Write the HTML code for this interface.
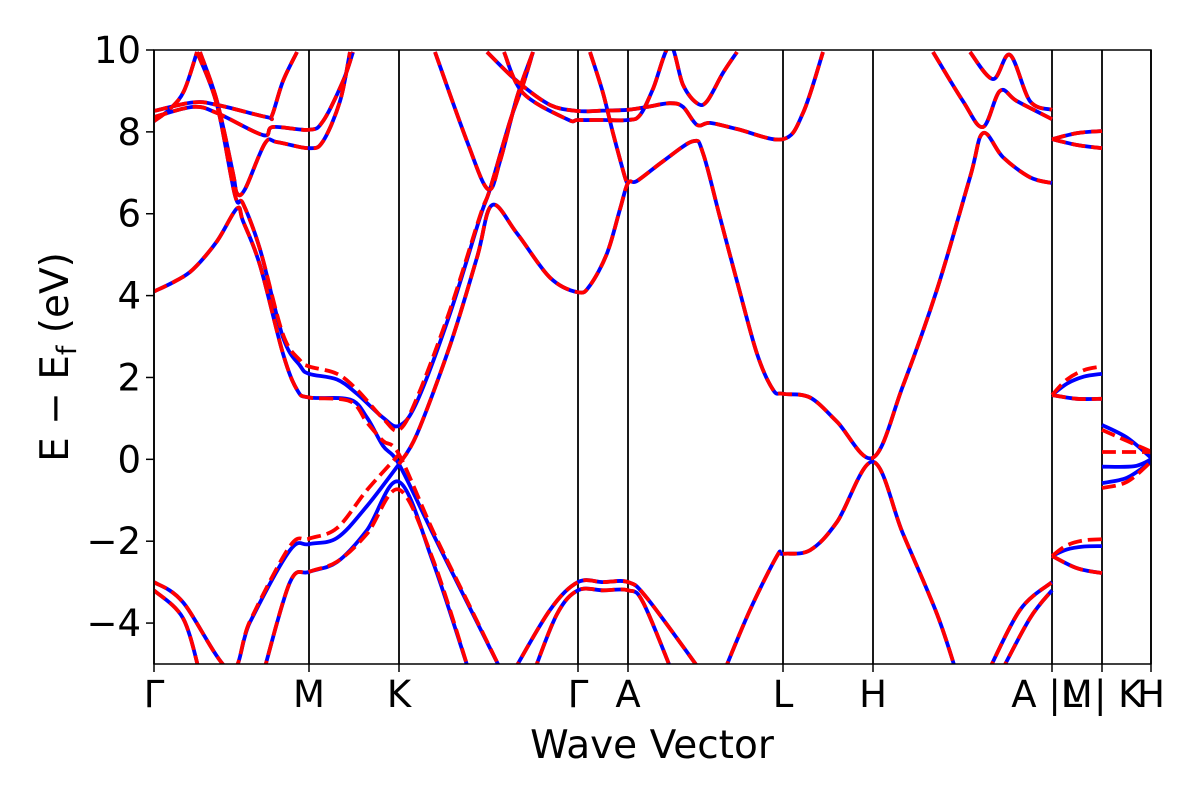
<!DOCTYPE html>
<html><head><meta charset="utf-8"><style>
html,body{margin:0;padding:0;background:#fff;}
svg{display:block;font-family:"DejaVu Sans","Liberation Sans",sans-serif;}
</style></head><body>
<svg id="chart" width="1200" height="800" viewBox="0 0 1200 800" xmlns="http://www.w3.org/2000/svg">
<defs><clipPath id="plotclip"><rect x="154" y="50" width="997" height="614"/></clipPath></defs>
<rect x="0" y="0" width="1200" height="800" fill="#fff"/>
<g id="gridlines"></g>
<g id="bands" clip-path="url(#plotclip)"></g>
<rect x="154" y="50" width="997" height="614" fill="none" stroke="#000" stroke-width="1.5"/>
<g id="yticks"></g>
<g id="xticks"></g>
<text x="652" y="758" font-size="39" text-anchor="middle">Wave Vector</text>
<text transform="translate(68,357) rotate(-90)" font-size="39" text-anchor="middle">E − E<tspan font-size="27" dy="8">f</tspan><tspan dy="-8"> (eV)</tspan></text>
</svg>
<script>
const kTicks = [0,155,245,424,474,629,719,898,948,997];
const kLabels = ["Γ","M","K","Γ","A","L","H","A |M","L | K","H"];
const yTicks = [-4,-2,0,2,4,6,8,10];

const b1 = [[0,4.10],[21,4.35],[39,4.64],[63,5.33],[83,6.13],[89,5.82],[106,4.74],[129,2.58],[143,1.70],[155,1.51],[196,1.46],[213,1.02],[229,0.33],[245,-0.12],[279,-1.82],[313,-3.49],[349,-5.25]];
const b2 = [[43,9.95],[63,8.66],[81,6.45],[89,6.25],[106,5.13],[129,2.98],[146,2.29],[155,2.09],[183,1.95],[203,1.6],[229,1.02],[245,0.82],[263,1.41],[296,3.56],[326,5.91],[336,6.6],[356,8.26],[369,9.15],[379,9.95]];
const b3 = [[245,-0.12],[263,0.62],[296,2.78],[323,4.93],[338,6.21],[363,5.52],[396,4.44],[424,4.08],[436,4.25],[453,5.03],[466,6.11],[474,6.75],[483,6.8],[509,7.28],[539,7.77],[549,7.48],[566,5.91],[583,4.35],[603,2.58],[619,1.70],[629,1.60],[656,1.51],[683,0.92],[719,0.04],[749,1.80],[783,4.15],[816,6.89],[829,7.97],[849,7.38],[876,6.89],[898,6.75]];
const b4 = [[281,9.95],[313,7.77],[334,6.6],[346,7.28],[363,8.85],[379,9.95]];
const b5 = [[333,9.95],[363,9.24],[396,8.66],[424,8.51],[449,8.52],[474,8.54],[493,8.61],[516,8.7],[529,8.61],[543,8.17],[556,8.22],[583,8.07],[629,7.82],[649,8.46],[669,9.95]];
const b6 = [[350,9.95],[369,8.95],[413,8.31],[424,8.29],[449,8.29],[474,8.29],[486,8.41],[499,9.05],[516,10.1],[529,9.15],[543,8.70],[553,8.75],[569,9.44],[583,9.95]];
const e2 = [[436,9.95],[449,8.95],[459,7.97],[471,6.89],[474,6.75]];
const c1 = [[0,8.26],[16,8.56],[30,9.0],[43,9.95]];
const c2 = [[46,9.95],[63,8.75],[79,6.99],[83,6.5],[91,6.6],[111,7.72],[123,7.75],[155,7.6],[169,7.77],[186,8.75],[196,9.95]];
const c3 = [[0,8.51],[39,8.72],[63,8.66],[113,8.36],[118,8.4],[129,9.24],[143,9.95]];
const c4 = [[0,8.36],[39,8.61],[63,8.46],[109,7.92],[119,8.12],[155,8.05],[169,8.26],[189,9.24],[199,9.95]];
const d1 = [[0,-3.0],[29,-3.49],[76,-5.15],[96,-3.98],[136,-2.22],[155,-2.07],[183,-1.92],[213,-1.14],[245,-0.12]];
const d2 = [[0,-3.2],[29,-3.88],[46,-5.25]];
const d2b = [[109,-5.25],[136,-3.0],[155,-2.75],[183,-2.51],[213,-1.73],[245,-0.55],[279,-2.51],[316,-5.25]];
const d3 = [[358,-5.25],[396,-3.68],[424,-3.0],[449,-3.0],[474,-3.0],[493,-3.39],[549,-5.25]];
const d4 = [[379,-5.25],[403,-3.78],[424,-3.2],[449,-3.2],[474,-3.2],[489,-3.49],[519,-5.25]];
const d5 = [[569,-5.25],[596,-3.68],[623,-2.36],[629,-2.31],[656,-2.22],[683,-1.53],[719,-0.06],[749,-1.82],[783,-3.78],[803,-5.25]];
const d6 = [[833,-5.25],[866,-3.68],[898,-3.0]];
const d7 = [[846,-5.25],[876,-3.88],[898,-3.2]];
const u1 = [[779,9.95],[809,8.75],[829,8.12],[846,9.0],[863,8.75],[898,8.31]];
const u2 = [[816,9.95],[839,9.29],[856,9.88],[876,8.75],[898,8.54]];
const m1 = [[898,7.82],[923,7.97],[948,8.02]];
const m2 = [[898,7.82],[923,7.68],[948,7.6]];
const m3 = [[898,1.57],[913,1.85],[930,2.02],[948,2.09]];
const m4 = [[898,1.57],[923,1.48],[948,1.48]];
const m5 = [[898,-2.36],[913,-2.2],[930,-2.13],[948,-2.12]];
const m6 = [[898,-2.36],[923,-2.66],[948,-2.78]];
const h1 = [[948,0.84],[973,0.53],[997,0.04]];
const h2 = [[948,-0.18],[980,-0.17],[997,0.0]];
const h3 = [[948,-0.58],[973,-0.45],[997,-0.06]];

const rb1 = [[0,4.10],[21,4.35],[39,4.64],[63,5.33],[83,6.13],[89,5.82],[106,4.74],[129,2.58],[143,1.70],[155,1.51],[196,1.42],[213,0.9],[229,0.45],[245,0.12],[279,-1.75],[313,-3.45],[349,-5.25]];
const rb2 = [[43,9.95],[63,8.66],[81,6.45],[89,6.25],[106,5.13],[129,3.05],[146,2.42],[155,2.27],[183,2.09],[203,1.7],[229,1.0],[245,0.72],[263,1.5],[296,3.65],[326,5.95],[336,6.6],[356,8.26],[369,9.15],[379,9.95]];
const rd1 = [[0,-3.0],[29,-3.49],[76,-5.15],[96,-3.95],[136,-2.12],[155,-1.94],[183,-1.68],[213,-0.75],[245,0.12]];
const rd2b = [[109,-5.25],[136,-3.0],[155,-2.75],[183,-2.5],[213,-1.82],[245,-0.74],[279,-2.45],[316,-5.25]];
const rm3 = [[898,1.57],[913,1.95],[930,2.18],[948,2.27]];
const rm5 = [[898,-2.36],[913,-2.1],[930,-1.98],[948,-1.95]];
const rh1 = [[948,0.72],[973,0.45],[997,0.19]];
const rh2 = [[948,0.18],[997,0.18]];
const rh3 = [[948,-0.7],[973,-0.55],[997,-0.06]];

const blueBands = [b1,b2,b3,b4,b5,b6,e2,c1,c2,c3,c4,d1,d2,d2b,d3,d4,d5,d6,d7,u1,u2,m1,m2,m3,m4,m5,m6,h1,h2,h3];
const redBands = [rb1,rb2,b3,b4,b5,b6,e2,c1,c2,c3,c4,rd1,d2,rd2b,d3,d4,d5,d6,d7,u1,u2,m1,m2,rm3,m4,rm5,m6,rh1,rh2,rh3];

const X0=154, X1=1151, Y0=664, Y1=50, KMAX=997, EMIN=-5, EMAX=10;
const sx = k => X0 + (k/KMAX)*(X1-X0);
const sy = e => Y0 - (e-EMIN)/(EMAX-EMIN)*(Y0-Y1);
const NS="http://www.w3.org/2000/svg";

function pathFor(pts){
  const p = pts.map(q=>[sx(q[0]),sy(q[1])]);
  let d = "M"+p[0][0].toFixed(1)+","+p[0][1].toFixed(1);
  for(let i=0;i<p.length-1;i++){
    const a=p[Math.max(i-1,0)], b=p[i], c=p[i+1], e=p[Math.min(i+2,p.length-1)];
    const c1x=b[0]+(c[0]-a[0])/6, c1y=b[1]+(c[1]-a[1])/6;
    const c2x=c[0]-(e[0]-b[0])/6, c2y=c[1]-(e[1]-b[1])/6;
    d+=" C"+c1x.toFixed(1)+","+c1y.toFixed(1)+" "+c2x.toFixed(1)+","+c2y.toFixed(1)+" "+c[0].toFixed(1)+","+c[1].toFixed(1);
  }
  return d;
}

const grid=document.getElementById("gridlines");
kTicks.forEach((k,i)=>{
  const l=document.createElementNS(NS,"line");
  
  
  l.setAttribute("x1",sx(k));l.setAttribute("x2",sx(k));
  l.setAttribute("y1",Y1);l.setAttribute("y2",Y0);
  l.setAttribute("stroke","#000");l.setAttribute("stroke-width","1.8");
  grid.appendChild(l);
});

const bg=document.getElementById("bands");
blueBands.forEach(b=>{
  const p=document.createElementNS(NS,"path");
  
  
  p.setAttribute("d",pathFor(b));
  p.setAttribute("fill","none");p.setAttribute("stroke","#0000ff");
  p.setAttribute("stroke-width","3.8");p.setAttribute("stroke-linejoin","round");
  bg.appendChild(p);
});
redBands.forEach(b=>{
  const p=document.createElementNS(NS,"path");
  
  
  p.setAttribute("d",pathFor(b));
  p.setAttribute("fill","none");p.setAttribute("stroke","#ff0000");
  p.setAttribute("stroke-width","3.8");p.setAttribute("stroke-dasharray","14,6");
  bg.appendChild(p);
});

const yt=document.getElementById("yticks");
yTicks.forEach(v=>{
  const l=document.createElementNS(NS,"line");
  
  
  l.setAttribute("x1",X0-8);l.setAttribute("x2",X0);
  l.setAttribute("y1",sy(v));l.setAttribute("y2",sy(v));
  l.setAttribute("stroke","#000");l.setAttribute("stroke-width","1.5");
  yt.appendChild(l);
  const t=document.createElementNS(NS,"text");
  
  
  t.setAttribute("x",X0-13);t.setAttribute("y",sy(v)+13);
  t.setAttribute("font-size","37");t.setAttribute("text-anchor","end");
  t.textContent=(v<0?"−"+Math.abs(v):String(v));
  yt.appendChild(t);
});

const xt=document.getElementById("xticks");
kTicks.forEach((k,i)=>{
  const l=document.createElementNS(NS,"line");
  
  
  l.setAttribute("x1",sx(k));l.setAttribute("x2",sx(k));
  l.setAttribute("y1",Y0);l.setAttribute("y2",Y0+8);
  l.setAttribute("stroke","#000");l.setAttribute("stroke-width","1.5");
  xt.appendChild(l);
  const t=document.createElementNS(NS,"text");
  
  
  t.setAttribute("x",sx(k));t.setAttribute("y",707);
  t.setAttribute("font-size","37");t.setAttribute("text-anchor","middle");
  t.textContent=kLabels[i];
  xt.appendChild(t);
});
</script>
</body></html>
